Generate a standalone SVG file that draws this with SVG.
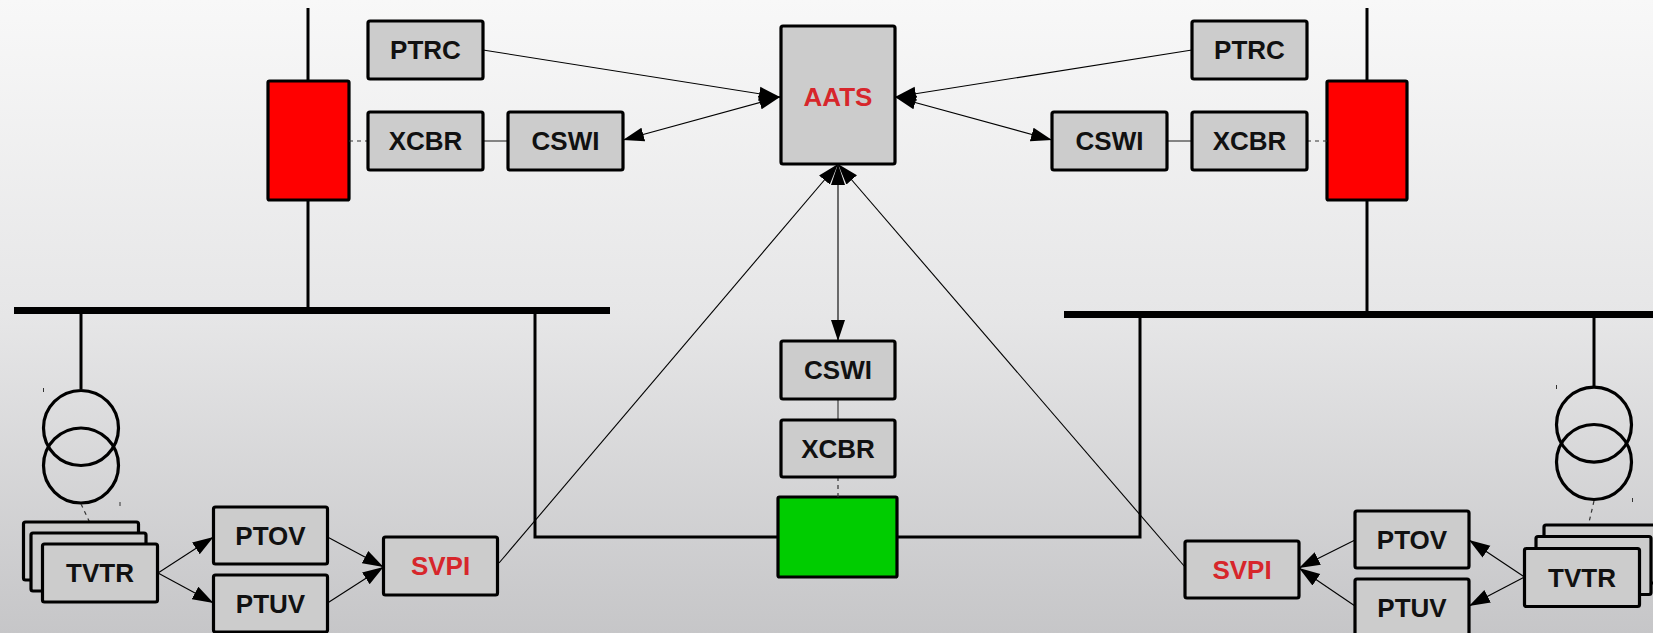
<svg xmlns="http://www.w3.org/2000/svg" width="1653" height="633" viewBox="0 0 1653 633">
<defs>
<linearGradient id="bg" x1="0" y1="0" x2="0" y2="1">
<stop offset="0" stop-color="#f8f8f8"/>
<stop offset="0.5" stop-color="#e6e6e7"/>
<stop offset="1" stop-color="#c6c6c8"/>
</linearGradient>
<marker id="ah" markerUnits="userSpaceOnUse" markerWidth="22" markerHeight="16" refX="21" refY="7" orient="auto-start-reverse" viewBox="0 0 22 14">
<path d="M0,0 L21,7 L0,14 z" fill="#000"/>
</marker>
<style>
.box{fill:#cccccc;stroke:#000;stroke-width:3.2}
.red{fill:#ff0000;stroke:#000;stroke-width:3.2}
.green{fill:#00cc00;stroke:#000;stroke-width:3.2}
.pw{stroke:#000;stroke-width:3;fill:none}
.bus{stroke:#000;stroke-width:7;fill:none}
.tr{stroke:#000;stroke-width:3.2;fill:none}
.lbl{font-family:"Liberation Sans",Arial,sans-serif;font-weight:bold;font-size:26px;fill:#111;text-anchor:middle}
.lr{fill:#d7262b}
.ln{stroke:#000;stroke-width:1.1;fill:none}
.ar{stroke:#000;stroke-width:1.1;fill:none;marker-end:url(#ah)}
.ar2{stroke:#000;stroke-width:1.1;fill:none;marker-start:url(#ah);marker-end:url(#ah)}
.sl{stroke:#555;stroke-width:1.4;fill:none}
.ds{stroke:#333;stroke-width:1.2;fill:none;stroke-dasharray:4,4}
.tk{stroke:#333;stroke-width:1;fill:none}
</style>
</defs>
<rect x="0" y="0" width="1653" height="633" fill="url(#bg)"/>

<g id="power">
<path class="pw" d="M308,8 V81 M308,200 V308"/>
<path class="bus" d="M14,310.5 H610"/>
<path class="pw" d="M81,313 V389"/>
<path class="pw" d="M535,313 V537 H779"/>
<path class="pw" d="M897,537 H1140 V317"/>
<path class="bus" d="M1064,314.5 H1653"/>
<path class="pw" d="M1367,8 V81 M1367,200 V312"/>
<path class="pw" d="M1594,317 V387"/>
</g>

<g id="breaker-left"><rect class="red" x="268" y="81" width="81" height="119" rx="1.5"/></g>
<g id="breaker-right"><rect class="red" x="1327" y="81" width="80" height="119" rx="1.5"/></g>
<g id="breaker-center"><rect class="green" x="778" y="497" width="119" height="80" rx="1.5"/></g>

<g id="transformer-left">
<circle class="tr" cx="81" cy="428" r="37.5"/>
<circle class="tr" cx="81" cy="465.5" r="37.5"/>
<path class="tk" d="M43.5,388 V392 M120,502 V506"/>
</g>
<g id="transformer-right">
<circle class="tr" cx="1594" cy="424.7" r="37.5"/>
<circle class="tr" cx="1594" cy="462" r="37.5"/>
<path class="tk" d="M1556.5,385 V389 M1632.5,498 V502"/>
</g>

<g id="connectors">
<path class="ds" d="M349,141 H368"/>
<path class="ds" d="M1307,141 H1327"/>
<path class="ds" d="M838,477 V497"/>
<path class="ds" d="M81,504 L100,544"/>
<path class="ds" d="M1594,501 L1583,548"/>
<path class="sl" d="M483,141 H508"/>
<path class="sl" d="M1167,141 H1192"/>
<path class="sl" d="M838,399 V420"/>
<path class="ar" d="M483,50 L780,97"/>
<path class="ar2" d="M623,140 L780,97"/>
<path class="ar" d="M1192,50 L895,97"/>
<path class="ar2" d="M1052,140 L895,97"/>
<path class="ar" d="M499,563 L838,164"/>
<path class="ar" d="M1185,567 L838,164"/>
<path class="ar2" d="M838,341 L838,164"/>
<path class="ar" d="M158,573 L213.5,537"/>
<path class="ar" d="M158,573 L213.5,603"/>
<path class="ar" d="M327.5,537 L383.5,567"/>
<path class="ar" d="M327.5,603 L383.5,567"/>
<path class="ar" d="M1524.5,577 L1469,540"/>
<path class="ar" d="M1524.5,577 L1469,606"/>
<path class="ar" d="M1355,540 L1299,568"/>
<path class="ar" d="M1355,606 L1299,568"/>
</g>

<g id="ptrc-left"><rect class="box" x="368" y="21" width="115" height="58" rx="2"/><text class="lbl" x="425.5" y="59">PTRC</text></g>
<g id="xcbr-left"><rect class="box" x="368" y="112" width="115" height="58" rx="2"/><text class="lbl" x="425.5" y="150">XCBR</text></g>
<g id="cswi-left"><rect class="box" x="508" y="112" width="115" height="58" rx="2"/><text class="lbl" x="565.5" y="150">CSWI</text></g>
<g id="aats"><rect class="box" x="781" y="26" width="114" height="138" rx="2"/><text class="lbl lr" x="838" y="106">AATS</text></g>
<g id="ptrc-right"><rect class="box" x="1192" y="21" width="115" height="58" rx="2"/><text class="lbl" x="1249.5" y="59">PTRC</text></g>
<g id="cswi-right"><rect class="box" x="1052" y="112" width="115" height="58" rx="2"/><text class="lbl" x="1109.5" y="150">CSWI</text></g>
<g id="xcbr-right"><rect class="box" x="1192" y="112" width="115" height="58" rx="2"/><text class="lbl" x="1249.5" y="150">XCBR</text></g>
<g id="cswi-center"><rect class="box" x="781" y="341" width="114" height="58" rx="2"/><text class="lbl" x="838" y="379">CSWI</text></g>
<g id="xcbr-center"><rect class="box" x="781" y="420" width="114" height="57" rx="2"/><text class="lbl" x="838" y="458">XCBR</text></g>

<g id="tvtr-left">
<rect class="box" x="23.5" y="522" width="115" height="58" rx="2"/>
<rect class="box" x="31" y="533" width="115" height="58" rx="2"/>
<rect class="box" x="42.5" y="544" width="115" height="58" rx="2"/>
<text class="lbl" x="100" y="582">TVTR</text>
</g>
<g id="ptov-left"><rect class="box" x="213.5" y="507" width="114" height="57" rx="2"/><text class="lbl" x="270.5" y="545">PTOV</text></g>
<g id="ptuv-left"><rect class="box" x="213.5" y="575" width="114" height="57" rx="2"/><text class="lbl" x="270.5" y="613">PTUV</text></g>
<g id="svpi-left"><rect class="box" x="383.5" y="537" width="114" height="58" rx="2"/><text class="lbl lr" x="440.5" y="575">SVPI</text></g>

<g id="svpi-right"><rect class="box" x="1185" y="541" width="114" height="57" rx="2"/><text class="lbl lr" x="1242" y="579">SVPI</text></g>
<g id="ptov-right"><rect class="box" x="1355" y="511" width="114" height="57" rx="2"/><text class="lbl" x="1412" y="549">PTOV</text></g>
<g id="ptuv-right"><rect class="box" x="1355" y="579" width="114" height="58" rx="2"/><text class="lbl" x="1412" y="617">PTUV</text></g>
<g id="tvtr-right">
<rect class="box" x="1544" y="525" width="115" height="58" rx="2"/>
<rect class="box" x="1536" y="536.5" width="115" height="58" rx="2"/>
<rect class="box" x="1524.5" y="548.5" width="115" height="58" rx="2"/>
<text class="lbl" x="1582" y="587">TVTR</text>
</g>
</svg>
